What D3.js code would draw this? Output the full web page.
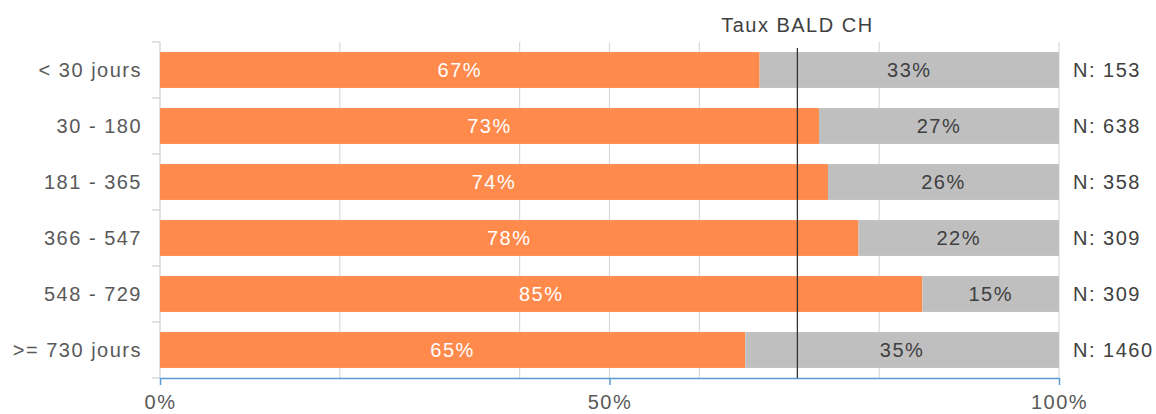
<!DOCTYPE html>
<html>
<head>
<meta charset="utf-8">
<script src="https://cdn.jsdelivr.net/npm/d3@7"></script>
<style>
  body { margin: 0; background: #fff; }
  text { font-family: "Liberation Sans", Arial, sans-serif; letter-spacing: 1.5px; }
</style>
</head>
<body>
<svg id="chart" width="1156" height="414"></svg>
<script>
// data
const categories = ['< 30 jours', '30 - 180', '181 - 365', '366 - 547', '548 - 729', '>= 730 jours']
const shareYes = [0.667, 0.733, 0.743, 0.777, 0.848, 0.651]
const counts = [153, 638, 358, 309, 309, 1460]
const refValue = 0.709
const refLabel = 'Taux BALD CH'
const xTickValues = [0, 0.5, 1]
const gridValues = [0.2, 0.4, 0.5, 0.6, 0.8, 1]

const margin = { top: 42, right: 97, bottom: 36, left: 160 }
const width = 1156 - margin.left - margin.right
const height = 414 - margin.top - margin.bottom

const orange = '#ff8a4c'
const grey = '#bfbfbf'
const fontSize = 20

const svg = d3.select('#chart')
  .append('g')
  .attr('transform', `translate(${margin.left}, ${margin.top})`)

const x = d3.scaleLinear().domain([0, 1]).range([0, width])
const y = d3.scaleBand()
  .domain(categories)
  .range([0, height])
  .paddingInner(0.36)
  .paddingOuter(0.18)

// gridlines
svg.selectAll('.grid')
  .data(gridValues)
  .join('line')
  .attr('class', 'grid')
  .attr('x1', d => x(d)).attr('x2', d => x(d))
  .attr('y1', 0).attr('y2', height)
  .attr('stroke', '#d9d9d9')
  .attr('stroke-width', 1.2)

// left axis: line plus outward ticks on band boundaries
const bounds = d3.range(categories.length + 1).map(i => i * y.step())
svg.append('line')
  .attr('x1', 0).attr('x2', 0)
  .attr('y1', 0).attr('y2', height)
  .attr('stroke', '#d9d9d9').attr('stroke-width', 1.5)
svg.selectAll('.ytick')
  .data(bounds)
  .join('line')
  .attr('class', 'ytick')
  .attr('x1', -8).attr('x2', 0)
  .attr('y1', d => d).attr('y2', d => d)
  .attr('stroke', '#d9d9d9').attr('stroke-width', 1.5)

svg.selectAll('.ylabel')
  .data(categories)
  .join('text')
  .attr('class', 'ylabel')
  .attr('x', -18)
  .attr('y', d => y(d) + y.bandwidth() / 2)
  .attr('dy', '0.35em')
  .attr('text-anchor', 'end')
  .attr('font-size', fontSize)
  .attr('fill', '#595959')
  .text(d => d)

const rows = categories.map((c, i) => ({ cat: c, yes: shareYes[i], no: 1 - shareYes[i], n: counts[i] }))

// orange part
svg.selectAll('.bar-yes')
  .data(rows)
  .join('rect')
  .attr('class', 'bar-yes')
  .attr('x', x(0))
  .attr('y', d => y(d.cat))
  .attr('width', d => x(d.yes) - x(0))
  .attr('height', y.bandwidth())
  .attr('fill', orange)

// grey part
svg.selectAll('.bar-no')
  .data(rows)
  .join('rect')
  .attr('class', 'bar-no')
  .attr('x', d => x(d.yes))
  .attr('y', d => y(d.cat))
  .attr('width', d => x(1) - x(d.yes))
  .attr('height', y.bandwidth())
  .attr('fill', grey)

const pct = d3.format('.0%')

svg.selectAll('.lab-yes')
  .data(rows)
  .join('text')
  .attr('class', 'lab-yes')
  .attr('x', d => x(d.yes / 2))
  .attr('y', d => y(d.cat) + y.bandwidth() / 2)
  .attr('dy', '0.35em')
  .attr('text-anchor', 'middle')
  .attr('font-size', fontSize)
  .attr('fill', '#ffffff')
  .text(d => pct(d.yes))

svg.selectAll('.lab-no')
  .data(rows)
  .join('text')
  .attr('class', 'lab-no')
  .attr('x', d => x(d.yes + d.no / 2))
  .attr('y', d => y(d.cat) + y.bandwidth() / 2)
  .attr('dy', '0.35em')
  .attr('text-anchor', 'middle')
  .attr('font-size', fontSize)
  .attr('fill', '#404040')
  .text(d => pct(d.no))

// N labels on the right
svg.selectAll('.lab-n')
  .data(rows)
  .join('text')
  .attr('class', 'lab-n')
  .attr('x', width + 14)
  .attr('y', d => y(d.cat) + y.bandwidth() / 2)
  .attr('dy', '0.35em')
  .attr('font-size', fontSize)
  .attr('fill', '#404040')
  .text(d => 'N: ' + d.n)

// bottom axis
const xAxis = d3.axisBottom(x)
  .tickValues(xTickValues)
  .tickFormat(d3.format('.0%'))
  .tickSizeInner(7)
  .tickSizeOuter(0)
  .tickPadding(10)
const ax = svg.append('g')
  .attr('transform', `translate(0, ${height})`)
  .call(xAxis)
ax.select('.domain').attr('stroke', '#5b9bd5').attr('stroke-width', 1.5)
ax.selectAll('.tick line').attr('stroke', '#5b9bd5').attr('stroke-width', 1.5)
ax.selectAll('text')
  .attr('font-size', fontSize)
  .attr('font-family', '"Liberation Sans", Arial, sans-serif')
  .attr('fill', '#595959')

// reference line
svg.append('line')
  .attr('x1', x(refValue)).attr('x2', x(refValue))
  .attr('y1', 6).attr('y2', height)
  .attr('stroke', '#333333')
  .attr('stroke-width', 1.3)
svg.append('text')
  .attr('x', x(refValue))
  .attr('y', -17)
  .attr('dy', '0.35em')
  .attr('text-anchor', 'middle')
  .attr('font-size', fontSize)
  .attr('fill', '#404040')
  .text(refLabel)
</script>
</body>
</html>
